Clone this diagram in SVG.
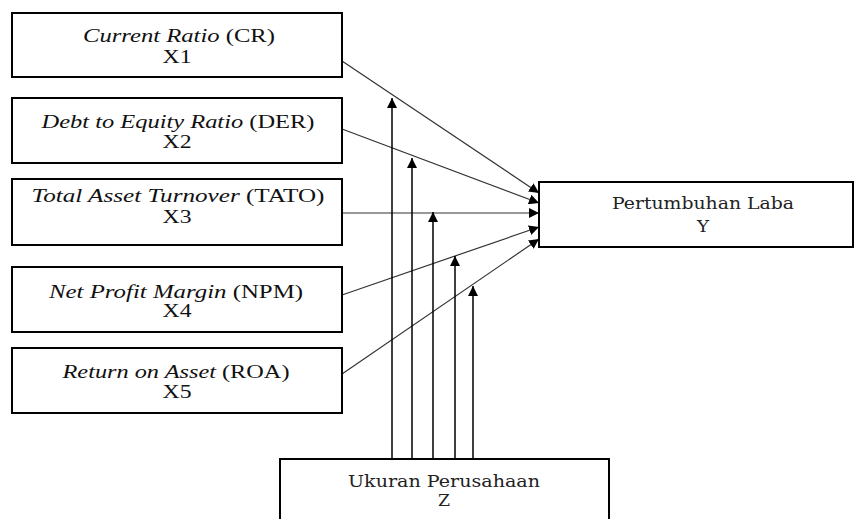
<svg xmlns="http://www.w3.org/2000/svg" width="856" height="519" viewBox="0 0 856 519">
<style>
.box{fill:#fff;stroke:#000;stroke-width:2}
.t{font-family:"Liberation Serif","Times New Roman",serif;font-size:19px;fill:#111;text-anchor:middle}
.c{font-family:"DejaVu Serif","Liberation Serif",serif;font-size:16px;fill:#222;text-anchor:middle}
.i{font-style:italic}
.ln{stroke:#333;stroke-width:1.2;fill:none}
.v{stroke:#000;stroke-width:1.5;fill:none}
</style>
<defs>
<marker id="ah" markerUnits="userSpaceOnUse" markerWidth="10" markerHeight="10" refX="10" refY="5" orient="auto">
<path d="M0,0 L10,5 L0,10 z" fill="#000"/>
</marker>
</defs>
<g id="connectors">
<line class="ln" x1="342" y1="61" x2="539" y2="193" marker-end="url(#ah)"/>
<line class="ln" x1="342" y1="129" x2="539" y2="203" marker-end="url(#ah)"/>
<line class="ln" x1="342" y1="213" x2="539" y2="213" marker-end="url(#ah)"/>
<line class="ln" x1="342" y1="295" x2="539" y2="227" marker-end="url(#ah)"/>
<line class="ln" x1="342" y1="374" x2="539" y2="239" marker-end="url(#ah)"/>
<line class="v" x1="392" y1="459" x2="392" y2="98" marker-end="url(#ah)"/>
<line class="v" x1="412" y1="459" x2="412" y2="158" marker-end="url(#ah)"/>
<line class="v" x1="433" y1="459" x2="433" y2="212" marker-end="url(#ah)"/>
<line class="v" x1="455" y1="459" x2="455" y2="256" marker-end="url(#ah)"/>
<line class="v" x1="473" y1="459" x2="473" y2="286" marker-end="url(#ah)"/>
</g>
<g id="x1">
<rect class="box" x="12" y="13" width="330" height="64"/>
<text class="t" x="179" y="42" textLength="192" lengthAdjust="spacingAndGlyphs"><tspan class="i">Current Ratio</tspan> (CR)</text>
<text class="t" x="177" y="63" textLength="29" lengthAdjust="spacingAndGlyphs">X1</text>
</g>
<g id="x2">
<rect class="box" x="12" y="98" width="330" height="65"/>
<text class="t" x="178" y="128" textLength="273" lengthAdjust="spacingAndGlyphs"><tspan class="i">Debt to Equity Ratio</tspan> (DER)</text>
<text class="t" x="177" y="148" textLength="29" lengthAdjust="spacingAndGlyphs">X2</text>
</g>
<g id="x3">
<rect class="box" x="12" y="179" width="330" height="66"/>
<text class="t" x="178" y="202" textLength="293" lengthAdjust="spacingAndGlyphs"><tspan class="i">Total Asset Turnover</tspan> (TATO)</text>
<text class="t" x="177" y="223" textLength="29" lengthAdjust="spacingAndGlyphs">X3</text>
</g>
<g id="x4">
<rect class="box" x="12" y="267" width="330" height="65"/>
<text class="t" x="176" y="298" textLength="254" lengthAdjust="spacingAndGlyphs"><tspan class="i">Net Profit Margin</tspan> (NPM)</text>
<text class="t" x="177" y="317" textLength="29" lengthAdjust="spacingAndGlyphs">X4</text>
</g>
<g id="x5">
<rect class="box" x="12" y="348" width="330" height="65"/>
<text class="t" x="176" y="378" textLength="227" lengthAdjust="spacingAndGlyphs"><tspan class="i">Return on Asset</tspan> (ROA)</text>
<text class="t" x="177" y="398" textLength="29" lengthAdjust="spacingAndGlyphs">X5</text>
</g>
<g id="y">
<rect class="box" x="539" y="182" width="314" height="65"/>
<text class="c" x="703" y="209" textLength="182" lengthAdjust="spacingAndGlyphs">Pertumbuhan Laba</text>
<text class="c" x="703" y="232" textLength="12" lengthAdjust="spacingAndGlyphs">Y</text>
</g>
<g id="z">
<rect class="box" x="280" y="459" width="329" height="80"/>
<text class="c" x="444" y="487" textLength="192" lengthAdjust="spacingAndGlyphs">Ukuran Perusahaan</text>
<text class="c" x="444" y="506" textLength="12" lengthAdjust="spacingAndGlyphs">Z</text>
</g>
</svg>
